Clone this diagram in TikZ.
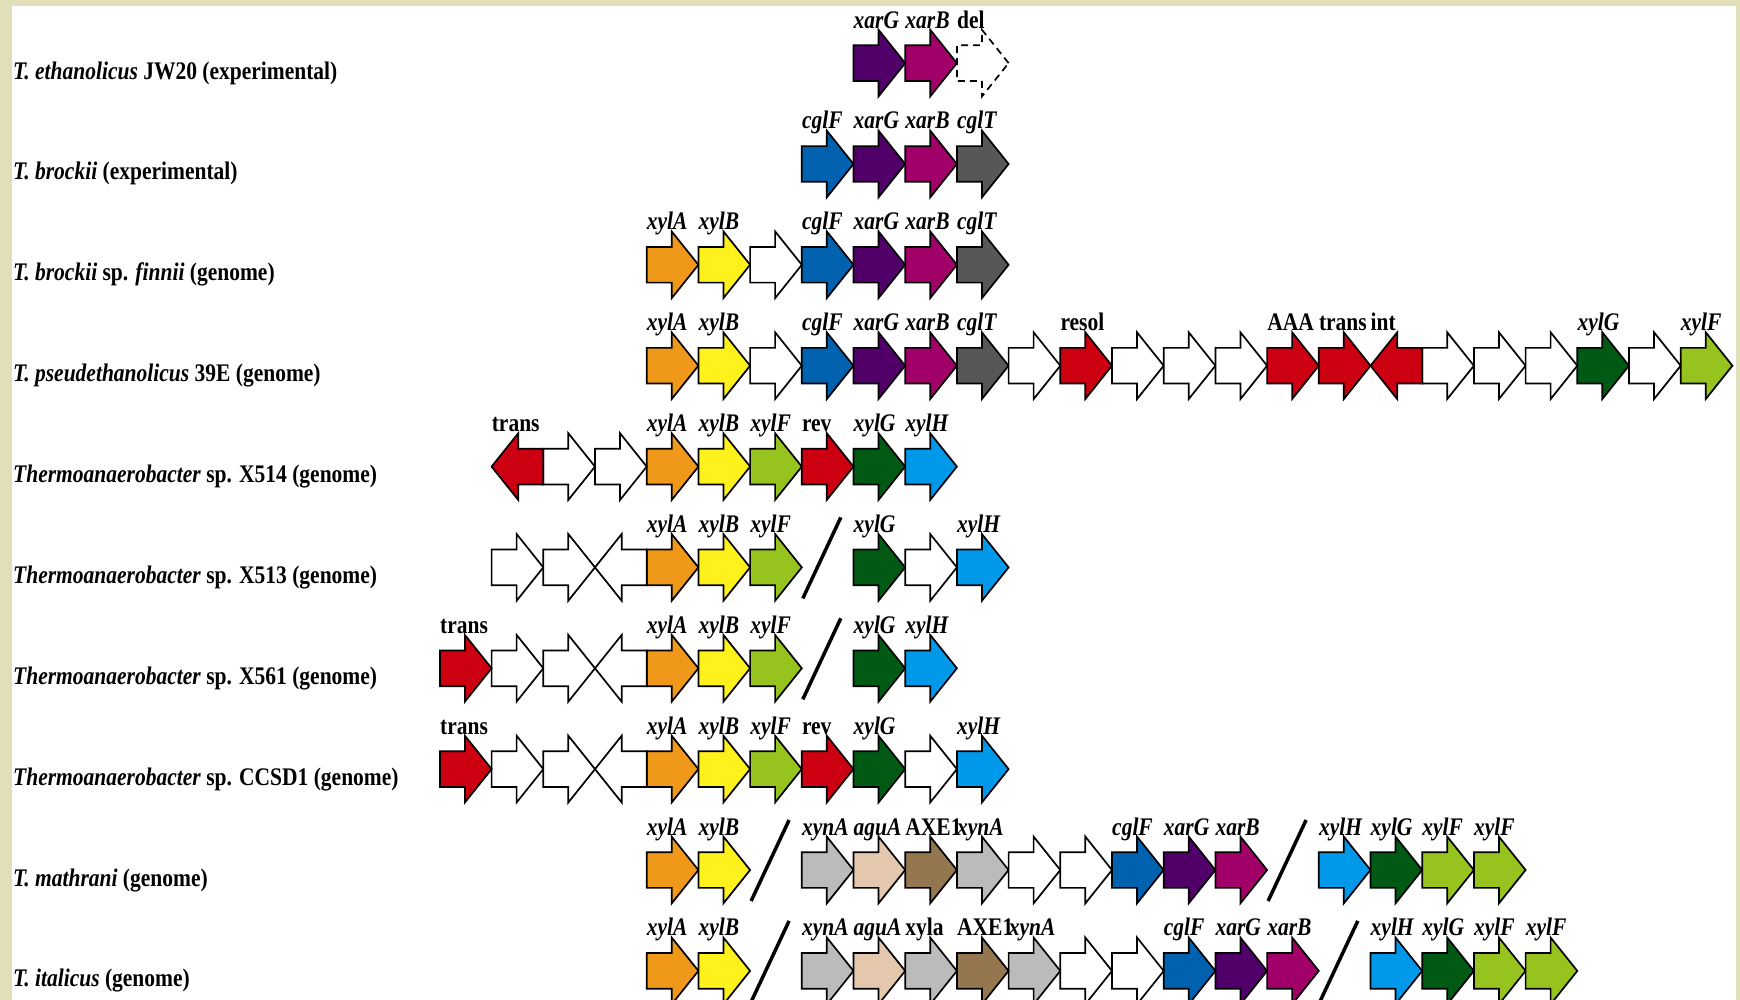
\documentclass[tikz,border=0pt]{standalone}
\usepackage{fontspec}
\setmainfont{Liberation Serif}[FakeStretch=0.85]
\usepackage{xcolor}
\usepackage{tikz}
\usetikzlibrary{shapes.arrows}

\definecolor{bgbeige}{HTML}{E1DFBA}
\definecolor{xylA}{HTML}{F0981A}
\definecolor{xylB}{HTML}{FFF11C}
\definecolor{xylF}{HTML}{96C31E}
\definecolor{xylG}{HTML}{005A14}
\definecolor{xylH}{HTML}{0099EA}
\definecolor{cglF}{HTML}{0061AE}
\definecolor{xarG}{HTML}{520069}
\definecolor{xarB}{HTML}{A10069}
\definecolor{cglT}{HTML}{575757}
\definecolor{xynA}{HTML}{BBBBBB}
\definecolor{aguA}{HTML}{E3C8AE}
\definecolor{axe}{HTML}{94764F}
\definecolor{gred}{HTML}{CC0010}
\newcommand\lblfont{\fontsize{25.3}{30}\selectfont\bfseries}

\begin{document}
\begin{tikzpicture}[x=1pt, y=-1pt,
  gene/.style={single arrow, draw=black, line width=1.7pt, fill=#1, inner sep=0pt, inner ysep=17pt, outer sep=0pt,
    minimum height=51.7pt, minimum width=65pt, single arrow head extend=15.5pt, single arrow tip angle=102.7, anchor=tail},
  rgene/.style={gene=#1, shape border rotate=180, anchor=tip},
  lost/.style={gene=white, dash pattern=on 7pt off 5pt},
  glab/.style={font=\lblfont\itshape, anchor=base west, inner sep=0pt, yshift=35pt},
  plab/.style={glab, font=\lblfont},
  species/.style={font=\lblfont, anchor=base west, inner sep=0pt},
  cut/.style={line width=3.5pt}
]
\useasboundingbox (0,0) rectangle (1740,1000);
\clip (0,0) rectangle (1740,1000);
\fill[bgbeige] (0,0) rectangle (1740,1000);
\fill[white] (11.7,6) rectangle (1736,1000);

\node[species] (sp1) at (13,79.1) {\textit{T. ethanolicus} JW20 (experimental)};
\node[species] (sp2) at (13,180.0) {\textit{T. brockii} (experimental)};
\node[species] (sp3) at (13,280.8) {\textit{T. brockii} sp. \textit{finnii} (genome)};
\node[species] (sp4) at (13,381.7) {\textit{T. pseudethanolicus} 39E (genome)};
\node[species] (sp5) at (13,482.6) {\textit{Thermoanaerobacter} sp. X514 (genome)};
\node[species] (sp6) at (13,583.4) {\textit{Thermoanaerobacter} sp. X513 (genome)};
\node[species] (sp7) at (13,684.3) {\textit{Thermoanaerobacter} sp. X561 (genome)};
\node[species] (sp8) at (13,785.1) {\textit{Thermoanaerobacter} sp. CCSD1 (genome)};
\node[species] (sp9) at (13,886.0) {\textit{T. mathrani} (genome)};
\node[species] (sp10) at (13,986.9) {\textit{T. italicus} (genome)};

% row 1
\foreach \k/\g in {4/xarG,5/xarB}{
  \node[gene=\g] (r1-\k) at (646.7+51.7*\k,63.1) {};
  \node[glab] at (r1-\k.tail) {\g};}
\node[lost] (r1-6) at (646.7+51.7*6,63.1) {};
\node[plab] at (r1-6.tail) {del};

% row 2
\foreach \k/\g in {3/cglF,4/xarG,5/xarB,6/cglT}{
  \node[gene=\g] (r2-\k) at (646.7+51.7*\k,164.0) {};
  \node[glab] at (r2-\k.tail) {\g};}

% row 3
\foreach \k/\g in {0/xylA,1/xylB,3/cglF,4/xarG,5/xarB,6/cglT}{
  \node[gene=\g] (r3-\k) at (646.7+51.7*\k,264.8) {};
  \node[glab] at (r3-\k.tail) {\g};}
\node[gene=white] (r3-2) at (646.7+51.7*2,264.8) {};

% row 4
\foreach \k/\g in {0/xylA,1/xylB,3/cglF,4/xarG,5/xarB,6/cglT,18/xylG,20/xylF}{
  \node[gene=\g] (r4-\k) at (646.7+51.7*\k,365.7) {};
  \node[glab] at (r4-\k.tail) {\g};}
\foreach \k in {2,7,9,10,11,15,16,17,19}
  \node[gene=white] (r4-\k) at (646.7+51.7*\k,365.7) {};
\foreach \k/\t in {8/resol,12/AAA,13/trans}{
  \node[gene=gred] (r4-\k) at (646.7+51.7*\k,365.7) {};
  \node[plab] at (r4-\k.tail) {\t};}
\node[rgene=gred] (r4-14) at (646.7+51.7*14,365.7) {};
\node[plab] at (r4-14.tip) {int};

% row 5
\foreach \k/\g in {0/xylA,1/xylB,2/xylF,4/xylG,5/xylH}{
  \node[gene=\g] (r5-\k) at (646.7+51.7*\k,466.6) {};
  \node[glab] at (r5-\k.tail) {\g};}
\foreach \k in {-2,-1}
  \node[gene=white] (r5-\k) at (646.7+51.7*\k,466.6) {};
\node[gene=gred] (r5-3) at (646.7+51.7*3,466.6) {};
\node[plab] at (r5-3.tail) {rev};
\node[rgene=gred] (r5--3) at (646.7-51.7*3,466.6) {};
\node[plab] at (r5--3.tip) {trans};

% row 6
\foreach \k/\g in {0/xylA,1/xylB,2/xylF,4/xylG,6/xylH}{
  \node[gene=\g] (r6-\k) at (646.7+51.7*\k,567.4) {};
  \node[glab] at (r6-\k.tail) {\g};}
\foreach \k in {-3,-2,5}
  \node[gene=white] (r6-\k) at (646.7+51.7*\k,567.4) {};
\node[rgene=white] (r6--1) at (646.7-51.7,567.4) {};

% row 7
\foreach \k/\g in {0/xylA,1/xylB,2/xylF,4/xylG,5/xylH}{
  \node[gene=\g] (r7-\k) at (646.7+51.7*\k,668.3) {};
  \node[glab] at (r7-\k.tail) {\g};}
\foreach \k in {-3,-2}
  \node[gene=white] (r7-\k) at (646.7+51.7*\k,668.3) {};
\node[rgene=white] (r7--1) at (646.7-51.7,668.3) {};
\node[gene=gred] (r7--4) at (646.7-51.7*4,668.3) {};
\node[plab] at (r7--4.tail) {trans};

% row 8
\foreach \k/\g in {0/xylA,1/xylB,2/xylF,4/xylG,6/xylH}{
  \node[gene=\g] (r8-\k) at (646.7+51.7*\k,769.1) {};
  \node[glab] at (r8-\k.tail) {\g};}
\foreach \k in {-3,-2,5}
  \node[gene=white] (r8-\k) at (646.7+51.7*\k,769.1) {};
\node[rgene=white] (r8--1) at (646.7-51.7,769.1) {};
\foreach \k/\t in {-4/trans,3/rev}{
  \node[gene=gred] (r8-\k) at (646.7+51.7*\k,769.1) {};
  \node[plab] at (r8-\k.tail) {\t};}

% row 9
\foreach \k/\g in {0/xylA,1/xylB,3/xynA,4/aguA,6/xynA,9/cglF,10/xarG,11/xarB,13/xylH,14/xylG,15/xylF,16/xylF}{
  \node[gene=\g] (r9-\k) at (646.7+51.7*\k,870.0) {};
  \node[glab] at (r9-\k.tail) {\g};}
\foreach \k in {7,8}
  \node[gene=white] (r9-\k) at (646.7+51.7*\k,870.0) {};
\node[gene=axe] (r9-5) at (646.7+51.7*5,870.0) {};
\node[plab] at (r9-5.tail) {AXE1};

% row 10
\foreach \k/\g in {0/xylA,1/xylB,3/xynA,4/aguA,7/xynA,10/cglF,11/xarG,12/xarB,14/xylH,15/xylG,16/xylF,17/xylF}{
  \node[gene=\g] (r10-\k) at (646.7+51.7*\k,970.9) {};
  \node[glab] at (r10-\k.tail) {\g};}
\foreach \k in {8,9}
  \node[gene=white] (r10-\k) at (646.7+51.7*\k,970.9) {};
\node[gene=xynA] (r10-5) at (646.7+51.7*5,970.9) {};
\node[plab] at (r10-5.tail) {xyla};
\node[gene=axe] (r10-6) at (646.7+51.7*6,970.9) {};
\node[plab] at (r10-6.tail) {AXE1};

% breaks
\foreach \x/\y in {801.8/567.4,801.8/668.3,750.1/870.0,1267.1/870.0,750.1/970.9,1318.8/970.9}
  \draw[cut] (\x+1,\y+31) -- (\x+39,\y-50);
\end{tikzpicture}
\end{document}
